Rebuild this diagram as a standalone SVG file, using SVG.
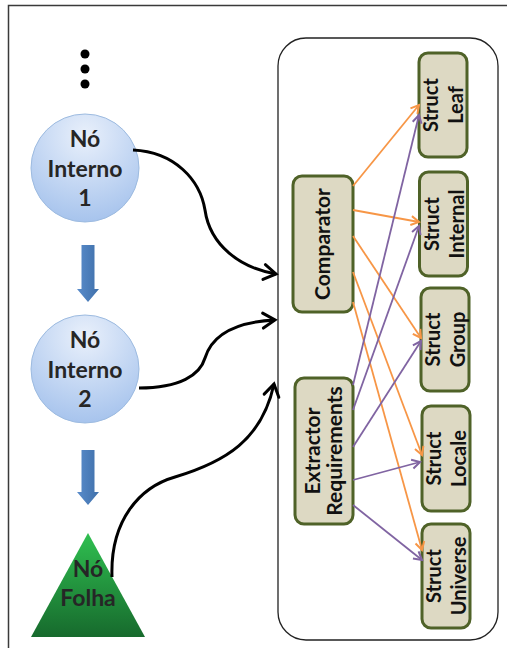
<svg xmlns="http://www.w3.org/2000/svg" width="507" height="648" viewBox="0 0 507 648">
<style>
  .frame{fill:none;stroke:#3a3a3a;stroke-width:1.5}
  .container{fill:#fff;stroke:#222;stroke-width:1.3}
  .box{fill:#ddd9c3;stroke:#4f6228;stroke-width:3}
  .btxt{font-family:Lato,"Liberation Sans",sans-serif;font-weight:bold;font-size:20px;fill:#111;text-anchor:middle}
  .ctxt{font-family:Lato,"Liberation Sans",sans-serif;font-weight:bold;font-size:21px;fill:#111;text-anchor:middle}
  .ntxt{font-family:Lato,"Liberation Sans",sans-serif;font-weight:bold;font-size:23px;fill:#262626;text-anchor:middle}
  .circ{fill:url(#gBlue);stroke:#9dbbe0;stroke-width:1}
  .barrow{fill:url(#gArrow)}
  .blk{fill:none;stroke:#000;stroke-width:3;marker-end:url(#mBlack)}
  .org{fill:none;stroke:#f79646;stroke-width:1.8;marker-end:url(#mOrange)}
  .pur{fill:none;stroke:#8064a2;stroke-width:1.8;marker-end:url(#mPurple)}
</style>
<defs>
  <radialGradient id="gBlue" cx="0.5" cy="0.2" r="0.85">
    <stop offset="0" stop-color="#e9f0fb"/>
    <stop offset="1" stop-color="#a3c1ec"/>
  </radialGradient>
  <linearGradient id="gGreen" x1="0" y1="0" x2="0" y2="1">
    <stop offset="0" stop-color="#2fbf50"/>
    <stop offset="1" stop-color="#176a2d"/>
  </linearGradient>
  <linearGradient id="gArrow" x1="0" y1="0" x2="1" y2="0">
    <stop offset="0" stop-color="#5a8ccb"/>
    <stop offset="1" stop-color="#3f70aa"/>
  </linearGradient>
  <marker id="mBlack" markerUnits="userSpaceOnUse" viewBox="-14 -9 16 18" refX="0" refY="0" markerWidth="16" markerHeight="18" orient="auto" overflow="visible">
    <path d="M-12,-7.5 L0,0 L-12,7.5" fill="none" stroke="#000" stroke-width="3" stroke-linecap="round" stroke-linejoin="miter"/>
  </marker>
  <marker id="mOrange" markerUnits="userSpaceOnUse" viewBox="-10 -6 12 12" refX="0" refY="0" markerWidth="12" markerHeight="12" orient="auto" overflow="visible">
    <path d="M-8,-4.5 L0,0 L-8,4.5" fill="none" stroke="#f79646" stroke-width="2"/>
  </marker>
  <marker id="mPurple" markerUnits="userSpaceOnUse" viewBox="-10 -6 12 12" refX="0" refY="0" markerWidth="12" markerHeight="12" orient="auto" overflow="visible">
    <path d="M-8,-4.5 L0,0 L-8,4.5" fill="none" stroke="#8064a2" stroke-width="2"/>
  </marker>
</defs>

<rect class="frame" x="8.5" y="5.5" width="560" height="700"/>

<g id="container">
  <rect class="container" x="278" y="38" width="220" height="602" rx="28" ry="28"/>
</g>

<g id="dots">
  <circle cx="85" cy="54" r="4.5" fill="#000"/>
  <circle cx="85" cy="69" r="4.5" fill="#000"/>
  <circle cx="85" cy="84" r="4.5" fill="#000"/>
</g>

<g id="no-interno-1">
  <circle class="circ" cx="85" cy="168" r="54"/>
  <text class="ntxt" x="85" y="147">Nó</text>
  <text class="ntxt" x="85" y="177">Interno</text>
  <text class="ntxt" x="85" y="206">1</text>
</g>

<g id="arrow-1">
  <polygon class="barrow" points="81.5,245 94.5,245 94.5,289 99,289 88,302 77,289 81.5,289"/>
</g>

<g id="no-interno-2">
  <circle class="circ" cx="85" cy="369" r="54"/>
  <text class="ntxt" x="85" y="348">Nó</text>
  <text class="ntxt" x="85" y="378">Interno</text>
  <text class="ntxt" x="85" y="407">2</text>
</g>

<g id="arrow-2">
  <polygon class="barrow" points="81.5,450 94.5,450 94.5,492 99,492 88,505 77,492 81.5,492"/>
</g>

<g id="no-folha">
  <polygon points="88,533 145,637 31,637" fill="url(#gGreen)"/>
  <text class="ntxt" x="88" y="577" fill="#1a1a1a">Nó</text>
  <text class="ntxt" x="88" y="606" fill="#1a1a1a">Folha</text>
</g>

<g id="comparator">
  <rect class="box" x="293" y="176" width="60" height="136" rx="9"/>
  <text class="ctxt" transform="translate(330,244) rotate(-90)">Comparator</text>
</g>

<g id="extractor">
  <rect class="box" x="295" y="378" width="58" height="146" rx="9"/>
  <text class="ctxt" transform="translate(320,451) rotate(-90)"><tspan x="0" y="0">Extractor</tspan><tspan x="0" y="22">Requirements</tspan></text>
</g>

<g id="struct-leaf">
  <rect class="box" x="419" y="53" width="48" height="104" rx="9"/>
  <text class="btxt" transform="translate(438,105) rotate(-90)"><tspan x="0" y="0">Struct</tspan><tspan x="0" y="25">Leaf</tspan></text>
</g>
<g id="struct-internal">
  <rect class="box" x="419.5" y="172" width="48" height="104" rx="9"/>
  <text class="btxt" transform="translate(438.5,224) rotate(-90)"><tspan x="0" y="0">Struct</tspan><tspan x="0" y="25">Internal</tspan></text>
</g>
<g id="struct-group">
  <rect class="box" x="421" y="288" width="48" height="103" rx="9"/>
  <text class="btxt" transform="translate(440,339.5) rotate(-90)"><tspan x="0" y="0">Struct</tspan><tspan x="0" y="25">Group</tspan></text>
</g>
<g id="struct-locale">
  <rect class="box" x="422" y="406" width="48" height="105" rx="9"/>
  <text class="btxt" transform="translate(441,458.5) rotate(-90)"><tspan x="0" y="0">Struct</tspan><tspan x="0" y="25">Locale</tspan></text>
</g>
<g id="struct-universe">
  <rect class="box" x="422" y="524" width="48" height="104" rx="9"/>
  <text class="btxt" transform="translate(441,576) rotate(-90)"><tspan x="0" y="0">Struct</tspan><tspan x="0" y="25">Universe</tspan></text>
</g>

<g id="connectors">
  <path class="blk" d="M133,150 C175,152 200,180 205,210 C210,245 240,268 276,274"/>
  <path class="blk" d="M139,388 C180,388 200,375 205,358 C212,335 235,322 275,320"/>
  <path class="blk" d="M112,577 C110,520 140,487 175,477 C225,462 262,440 274,384"/>

  <line class="org" x1="353" y1="186" x2="419" y2="105"/>
  <line class="org" x1="353" y1="210" x2="419" y2="222"/>
  <line class="org" x1="353" y1="236" x2="421" y2="338"/>
  <line class="org" x1="353" y1="272" x2="422" y2="455"/>
  <line class="org" x1="353" y1="302" x2="422" y2="550"/>

  <line class="pur" x1="353" y1="385" x2="419" y2="115"/>
  <line class="pur" x1="353" y1="410" x2="419" y2="226"/>
  <line class="pur" x1="353" y1="447" x2="421" y2="341"/>
  <line class="pur" x1="353" y1="480" x2="420" y2="462"/>
  <line class="pur" x1="353" y1="505" x2="422" y2="560"/>
</g>
</svg>
